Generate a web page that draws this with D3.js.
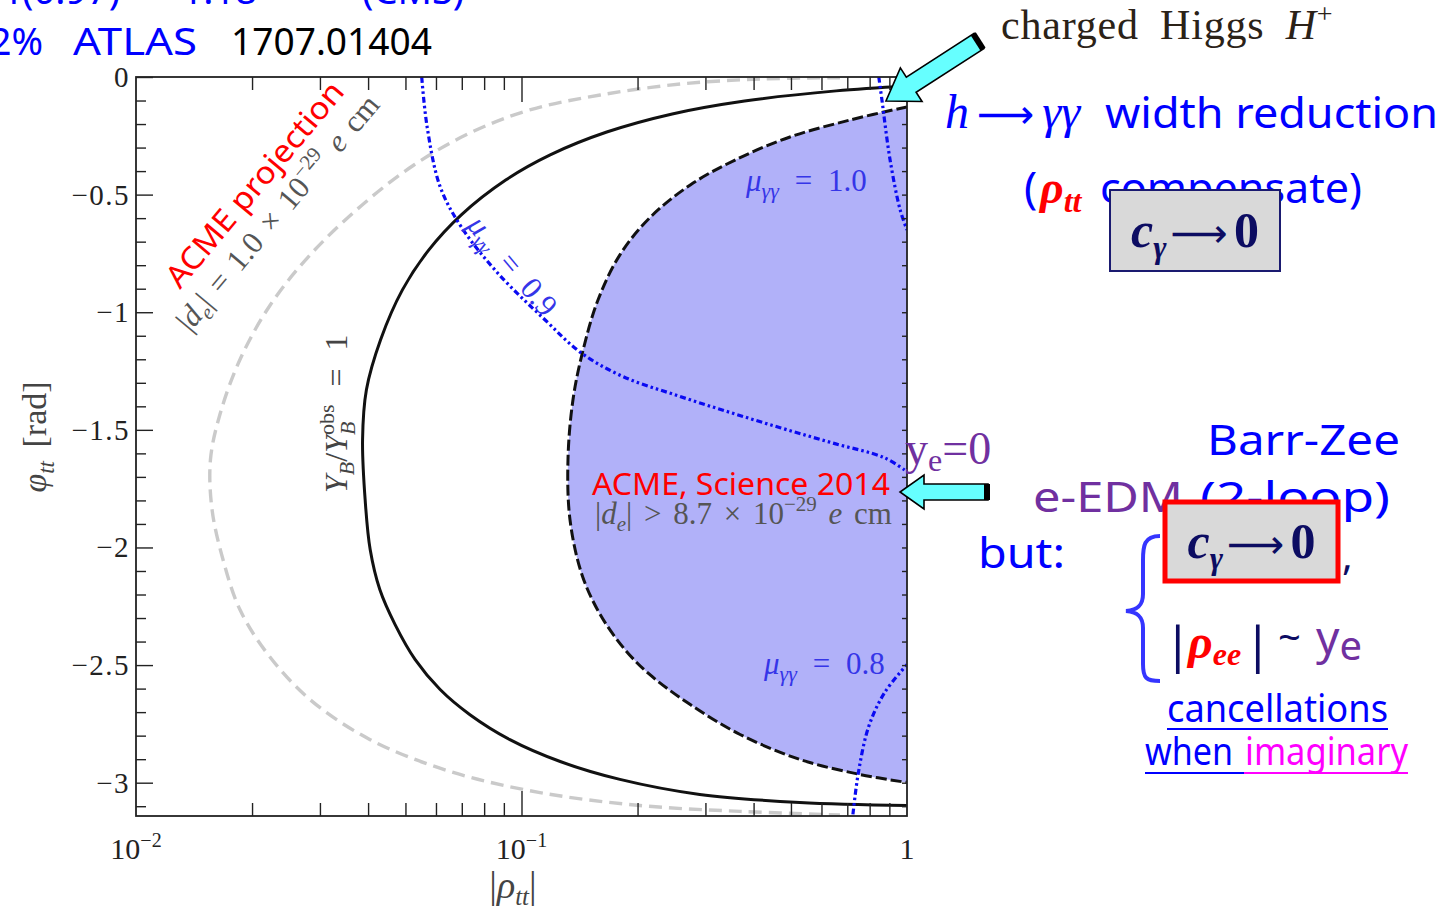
<!DOCTYPE html>
<html>
<head>
<meta charset="utf-8">
<script src="https://cdn.jsdelivr.net/npm/d3@7"></script>
<style>
  html, body { margin: 0; padding: 0; background: #fff; overflow: hidden; }
  svg { display: block; }
</style>
</head>
<body>
<svg id="chart" width="1450" height="914"></svg>
<script>
// Contours in the (|rho_tt|, phi_tt) plane, each point is [|rho_tt|, phi_tt in rad]
const ybCurve = [
  [1.0, -0.038], [0.655, -0.059], [0.379, -0.102], [0.246, -0.157], [0.1664, -0.234],
  [0.1187, -0.331], [0.0910, -0.438], [0.0698, -0.586], [0.0575, -0.735], [0.0491, -0.905],
  [0.0431, -1.117], [0.0396, -1.330], [0.0387, -1.542], [0.0393, -1.797], [0.0405, -2.009],
  [0.0429, -2.179], [0.0470, -2.328], [0.0530, -2.477], [0.0615, -2.604], [0.0735, -2.711],
  [0.0933, -2.817], [0.126, -2.910], [0.180, -2.986], [0.290, -3.050], [0.527, -3.084],
  [1.0, -3.097]
];
const acme2014 = [
  [1.0, -0.127], [0.711, -0.183], [0.497, -0.255], [0.358, -0.353], [0.274, -0.459],
  [0.215, -0.599], [0.180, -0.756], [0.158, -0.947], [0.1445, -1.160], [0.136, -1.372],
  [0.132, -1.627], [0.1336, -1.882], [0.1435, -2.116], [0.160, -2.285], [0.1855, -2.434],
  [0.215, -2.540], [0.274, -2.668], [0.369, -2.795], [0.527, -2.901], [0.755, -2.965],
  [1.0, -2.999]
];
const acmeProjection = [
  [0.67, -0.003], [0.416, -0.0085], [0.258, -0.030], [0.160, -0.0765], [0.105, -0.140],
  [0.0735, -0.238], [0.0526, -0.374], [0.0386, -0.544], [0.0283, -0.756], [0.0223, -0.969],
  [0.0186, -1.202], [0.0165, -1.436], [0.0156, -1.627], [0.01575, -1.839], [0.01682, -2.052],
  [0.0186, -2.264], [0.0220, -2.455], [0.0283, -2.647], [0.0405, -2.817], [0.0652, -2.952],
  [0.1117, -3.042], [0.203, -3.097], [0.369, -3.122], [0.67, -3.137]
];
const muGG10 = [[0.845, 0.0], [0.861, -0.098], [0.904, -0.353], [0.96, -0.565], [1.0, -0.65]];
const muGG09 = [
  [0.0551, 0.0], [0.0569, -0.211], [0.0615, -0.466], [0.0697, -0.636], [0.0867, -0.833],
  [0.115, -1.032], [0.1426, -1.172], [0.183, -1.273], [0.25, -1.351], [0.343, -1.423],
  [0.469, -1.491], [0.638, -1.555], [0.875, -1.619], [1.0, -1.678]
];
const muGG08 = [[0.724, -3.135], [0.748, -2.957], [0.796, -2.76], [0.875, -2.617], [1.0, -2.498]];

// Axis ticks
const yMajorTicks = [0, -0.5, -1, -1.5, -2, -2.5, -3];
const yTickLabels = ["0", "\u22120.5", "\u22121", "\u22121.5", "\u22122", "\u22122.5", "\u22123"];
const yMinorTicks = [-0.1, -0.2, -0.3, -0.4, -0.6, -0.7, -0.8, -0.9, -1.1, -1.2, -1.3, -1.4,
  -1.6, -1.7, -1.8, -1.9, -2.1, -2.2, -2.3, -2.4, -2.6, -2.7, -2.8, -2.9, -3.1];
const xMajorTicks = [0.01, 0.1, 1];
const xTickExponents = ["\u22122", "\u22121", ""];
const xMinorTicks = [0.02, 0.03, 0.04, 0.05, 0.06, 0.07, 0.08, 0.09, 0.2, 0.3, 0.4, 0.5, 0.6, 0.7, 0.8, 0.9];

const svg = d3.select("#chart");
const plot = { left: 136, right: 907, top: 77, bottom: 816 };

const x = d3.scaleLog().domain([0.01, 1]).range([plot.left, plot.right]);
const y = d3.scaleLinear().domain([0, -Math.PI]).range([plot.top, plot.bottom]);

const serif = "'Liberation Serif', 'DejaVu Serif', serif";
const hand = "'Noto Sans', 'Open Sans', sans-serif";

svg.append("defs").append("clipPath").attr("id", "plotClip")
  .append("rect")
  .attr("x", plot.left).attr("y", plot.top)
  .attr("width", plot.right - plot.left).attr("height", plot.bottom - plot.top);

const line = d3.line().x(d => x(d[0])).y(d => y(d[1])).curve(d3.curveCatmullRom.alpha(0.5));

const g = svg.append("g").attr("clip-path", "url(#plotClip)");

// excluded region right of the ACME 2014 bound
g.append("path")
  .attr("d", line(acme2014) + "Z")
  .attr("fill", "#b1b1f9");

g.append("path").attr("d", line(acmeProjection))
  .attr("fill", "none").attr("stroke", "#cacaca").attr("stroke-width", 3.4)
  .attr("stroke-dasharray", "13,7");

g.append("path").attr("d", line(ybCurve))
  .attr("fill", "none").attr("stroke", "#111").attr("stroke-width", 3);

g.append("path").attr("d", line(acme2014))
  .attr("fill", "none").attr("stroke", "#111").attr("stroke-width", 3)
  .attr("stroke-dasharray", "11,4");

[muGG10, muGG09, muGG08].forEach(c => {
  g.append("path").attr("d", line(c))
    .attr("fill", "none").attr("stroke", "#0a0af2").attr("stroke-width", 3.2)
    .attr("stroke-dasharray", "6,3,2.5,3,2.5,3");
});

// frame
svg.append("rect")
  .attr("x", plot.left).attr("y", plot.top)
  .attr("width", plot.right - plot.left).attr("height", plot.bottom - plot.top)
  .attr("fill", "none").attr("stroke", "#222").attr("stroke-width", 1.8);

// ticks
const tickStyle = sel => sel.call(s => s.select(".domain").remove())
  .selectAll(".tick line").attr("stroke", "#222").attr("stroke-width", 1.4);

svg.append("g").attr("transform", `translate(0,${plot.bottom})`)
  .call(d3.axisBottom(x).tickValues(xMinorTicks).tickSize(-13).tickFormat(""))
  .call(tickStyle);
svg.append("g").attr("transform", `translate(0,${plot.bottom})`)
  .call(d3.axisBottom(x).tickValues([0.1]).tickSize(-25).tickFormat(""))
  .call(tickStyle);
svg.append("g").attr("transform", `translate(0,${plot.top})`)
  .call(d3.axisTop(x).tickValues(xMinorTicks).tickSize(-13).tickFormat(""))
  .call(tickStyle);
svg.append("g").attr("transform", `translate(0,${plot.top})`)
  .call(d3.axisTop(x).tickValues([0.1]).tickSize(-25).tickFormat(""))
  .call(tickStyle);

svg.append("g").attr("transform", `translate(${plot.left},0)`)
  .call(d3.axisLeft(y).tickValues(yMinorTicks).tickSize(-10).tickFormat(""))
  .call(tickStyle);
svg.append("g").attr("transform", `translate(${plot.left},0)`)
  .call(d3.axisLeft(y).tickValues(yMajorTicks).tickSize(-17).tickFormat(""))
  .call(tickStyle);
svg.append("g").attr("transform", `translate(${plot.right},0)`)
  .call(d3.axisRight(y).tickValues(yMinorTicks.concat(yMajorTicks)).tickSize(-5).tickFormat(""))
  .call(tickStyle);

// tick labels
svg.append("g").selectAll("text").data(yMajorTicks).join("text")
  .attr("x", 130).attr("y", d => y(d) + 10)
  .attr("text-anchor", "end")
  .attr("font-family", serif).attr("font-size", 29).attr("letter-spacing", 1.5).attr("fill", "#222")
  .text((d, i) => yTickLabels[i]);

const xl = svg.append("g").selectAll("text").data(xMajorTicks).join("text")
  .attr("x", d => x(d)).attr("y", 859)
  .attr("text-anchor", "middle")
  .attr("font-family", serif).attr("font-size", 30).attr("fill", "#222");
xl.each(function (d, i) {
  const t = d3.select(this);
  if (xTickExponents[i] === "") { t.text("1"); return; }
  t.append("tspan").text("10");
  t.append("tspan").attr("dy", -12).attr("font-size", 20).text(xTickExponents[i]);
});

// axis titles
const yTitle = svg.append("text")
  .attr("transform", "translate(46,437) rotate(-90)")
  .attr("text-anchor", "middle").attr("font-family", serif).attr("font-size", 34)
  .attr("word-spacing", 5).attr("fill", "#444");
yTitle.append("tspan").attr("font-style", "italic").text("\u03c6");
yTitle.append("tspan").attr("font-style", "italic").attr("font-size", 23).attr("dy", 8).text("tt");
yTitle.append("tspan").attr("dy", -8).text(" [rad]");

const xTitle = svg.append("text")
  .attr("x", 513).attr("y", 898)
  .attr("text-anchor", "middle").attr("font-family", serif).attr("font-size", 38).attr("fill", "#444");
xTitle.append("tspan").text("|");
xTitle.append("tspan").attr("font-style", "italic").text("\u03c1");
xTitle.append("tspan").attr("font-style", "italic").attr("font-size", 25).attr("dy", 7).text("tt");
xTitle.append("tspan").attr("dy", -7).text("|");

// in-plot labels
function muLabel(sel, val) {
  sel.attr("font-family", serif).attr("font-size", 31).attr("word-spacing", 8).attr("fill", "#3535e8");
  sel.append("tspan").attr("font-style", "italic").text("\u03bc");
  sel.append("tspan").attr("font-style", "italic").attr("font-size", 22).attr("dy", 7).text("\u03b3\u03b3");
  sel.append("tspan").attr("dy", -7).text(" = " + val);
}
muLabel(svg.append("text").attr("x", 746).attr("y", 191), "1.0");
muLabel(svg.append("text").attr("x", 764).attr("y", 674), "0.8");
muLabel(svg.append("text").attr("transform", "translate(466,226) rotate(50)"), "0.9");

// Y_B / Y_B^obs = 1, with the stacked sub/superscript measured in place
const yb = svg.append("text").attr("transform", "translate(347,493) rotate(-90)")
  .attr("font-family", serif).attr("font-size", 32).attr("word-spacing", 10).attr("fill", "#444");
yb.append("tspan").attr("font-style", "italic").text("Y");
yb.append("tspan").attr("font-style", "italic").attr("font-size", 22).attr("dy", 7).text("B");
yb.append("tspan").attr("dy", -7).text("/");
yb.append("tspan").attr("font-style", "italic").text("Y");
const obs = yb.append("tspan").attr("font-size", 22).attr("dy", -13).text("obs");
const obsW = obs.node().getComputedTextLength();
const subB = yb.append("tspan").attr("font-style", "italic").attr("font-size", 22)
  .attr("dx", -obsW).attr("dy", 21).text("B");
const bW = subB.node().getComputedTextLength();
yb.append("tspan").attr("dx", obsW - bW).attr("dy", -8).text(" = 1");

svg.append("text").attr("transform", "translate(180,290) rotate(-50)")
  .attr("font-family", hand).attr("font-size", 31).attr("fill", "#ff0000")
  .attr("textLength", 258).attr("lengthAdjust", "spacingAndGlyphs")
  .text("ACME projection");

function deLabel(sel, rel, val) {
  sel.attr("font-family", serif).attr("font-size", 31).attr("word-spacing", 4).attr("fill", "#555");
  sel.append("tspan").text("|");
  sel.append("tspan").attr("font-style", "italic").text("d");
  sel.append("tspan").attr("font-style", "italic").attr("font-size", 21).attr("dy", 7).text("e");
  sel.append("tspan").attr("dy", -7).text(`| ${rel} ${val} \u00d7 10`);
  sel.append("tspan").attr("font-size", 21).attr("dy", -13).text("\u221229");
  sel.append("tspan").attr("dy", 13).text(" ");
  sel.append("tspan").attr("font-style", "italic").text("e");
  sel.append("tspan").text(" cm");
}
deLabel(svg.append("text").attr("transform", "translate(190,333) rotate(-50)"), "=", "1.0");

svg.append("text").attr("x", 592).attr("y", 495)
  .attr("font-family", hand).attr("font-size", 30).attr("fill", "#ff0000")
  .attr("textLength", 298).attr("lengthAdjust", "spacingAndGlyphs")
  .text("ACME, Science 2014");
deLabel(svg.append("text").attr("x", 595).attr("y", 524), ">", "8.7");

// slide annotations
const top1 = svg.append("text").attr("y", 4)
  .attr("font-family", hand).attr("font-size", 38).attr("fill", "#0000ff");
top1.append("tspan").attr("x", 2).text("1");
top1.append("tspan").attr("x", 22).text("(0.97)");
top1.append("tspan").attr("x", 150).text("\u2248 1.18");
top1.append("tspan").attr("x", 362).text("(CMS)");

svg.append("text").attr("x", 43).attr("y", 55).attr("text-anchor", "end")
  .attr("font-family", hand).attr("font-size", 38).attr("fill", "#0000ff").text("12%");
svg.append("text").attr("x", 73).attr("y", 55)
  .attr("font-family", hand).attr("font-size", 38).attr("fill", "#0000ff")
  .attr("textLength", 124).attr("lengthAdjust", "spacingAndGlyphs").text("ATLAS");
svg.append("text").attr("x", 231).attr("y", 55)
  .attr("font-family", hand).attr("font-size", 38).attr("fill", "#000")
  .attr("textLength", 201).attr("lengthAdjust", "spacingAndGlyphs").text("1707.01404");

const ch = svg.append("text").attr("x", 1001).attr("y", 39)
  .attr("font-family", serif).attr("font-size", 42).attr("word-spacing", 10).attr("letter-spacing", 0.8)
  .attr("fill", "#2b2218");
ch.append("tspan").text("charged Higgs ");
ch.append("tspan").attr("font-style", "italic").text("H");
ch.append("tspan").attr("font-size", 28).attr("dy", -16).text("+");

const hw = svg.append("text").attr("x", 945).attr("y", 128)
  .attr("font-size", 48).attr("fill", "#0000ff").attr("font-family", serif);
hw.append("tspan").attr("font-style", "italic").text("h");
hw.append("tspan").attr("dx", 8).attr("font-family", "'DejaVu Sans', sans-serif").attr("font-size", 40).text("\u27f6");
hw.append("tspan").attr("dx", 8).attr("font-style", "italic").text("\u03b3\u03b3");
svg.append("text").attr("x", 1105).attr("y", 128)
  .attr("font-family", hand).attr("font-size", 42).attr("fill", "#0000ff")
  .attr("textLength", 333).attr("lengthAdjust", "spacingAndGlyphs").text("width reduction");

svg.append("text").attr("x", 1024).attr("y", 203)
  .attr("font-family", hand).attr("font-size", 44).attr("fill", "#0000ff").text("(");
const rtt = svg.append("text").attr("x", 1040).attr("y", 203)
  .attr("font-family", serif).attr("font-weight", "bold").attr("font-style", "italic")
  .attr("font-size", 46).attr("fill", "#ff0000");
rtt.append("tspan").text("\u03c1");
rtt.append("tspan").attr("font-size", 32).attr("dy", 9).text("tt");
svg.append("text").attr("x", 1100).attr("y", 203)
  .attr("font-family", hand).attr("font-size", 42).attr("fill", "#0000ff")
  .attr("textLength", 262).attr("lengthAdjust", "spacingAndGlyphs").text("compensate)");

function cGammaBox(x0, y0, w, h, stroke, sw) {
  svg.append("rect").attr("x", x0).attr("y", y0).attr("width", w).attr("height", h)
    .attr("fill", "#d9d9d9").attr("stroke", stroke).attr("stroke-width", sw);
  const t = svg.append("text").attr("x", x0 + w / 2).attr("y", y0 + h / 2 + 16)
    .attr("text-anchor", "middle").attr("font-family", serif).attr("font-size", 50).attr("fill", "#0c0c62");
  t.append("tspan").attr("font-weight", "bold").attr("font-style", "italic").text("c");
  t.append("tspan").attr("font-weight", "bold").attr("font-style", "italic").attr("font-size", 32).attr("dy", 11).text("\u03b3");
  t.append("tspan").attr("dy", -11).attr("dx", 4).attr("font-family", "'DejaVu Sans', sans-serif")
    .attr("font-size", 40).text("\u27f6");
  t.append("tspan").attr("dx", 6).attr("font-weight", "bold").text("0");
}
cGammaBox(1110, 190, 170, 81, "#1a1a70", 2);

const ye = svg.append("text").attr("x", 905).attr("y", 464)
  .attr("font-family", serif).attr("font-size", 46).attr("fill", "#7030a0");
ye.append("tspan").text("y");
ye.append("tspan").attr("font-size", 32).attr("dy", 7).text("e");
ye.append("tspan").attr("dy", -7).text("=0");

svg.append("text").attr("x", 1207).attr("y", 455)
  .attr("font-family", hand).attr("font-size", 42).attr("fill", "#0000ff")
  .attr("textLength", 193).attr("lengthAdjust", "spacingAndGlyphs").text("Barr-Zee");
svg.append("text").attr("x", 1033).attr("y", 512)
  .attr("font-family", hand).attr("font-size", 42).attr("fill", "#7030a0")
  .attr("textLength", 150).attr("lengthAdjust", "spacingAndGlyphs").text("e-EDM");
svg.append("text").attr("x", 1200).attr("y", 512)
  .attr("font-family", hand).attr("font-size", 42).attr("fill", "#0000ff")
  .attr("textLength", 190).attr("lengthAdjust", "spacingAndGlyphs").text("(2-loop)");
svg.append("text").attr("x", 978).attr("y", 568)
  .attr("font-family", hand).attr("font-size", 42).attr("fill", "#0000ff")
  .attr("textLength", 87).attr("lengthAdjust", "spacingAndGlyphs").text("but:");

cGammaBox(1165, 502, 173, 79, "#ff0000", 5);
svg.append("text").attr("x", 1342).attr("y", 570)
  .attr("font-family", hand).attr("font-size", 40).attr("fill", "#0c0c62").text(",");

// curly brace
svg.append("path")
  .attr("d", "M1160,536 C1144,536 1143,546 1143,560 L1143,594 C1143,604 1139,610 1126,611 C1139,612 1143,618 1143,628 L1143,664 C1143,678 1146,681 1160,681")
  .attr("fill", "none").attr("stroke", "#3535ff").attr("stroke-width", 4);

const navy = "#0c0c62";
svg.append("text").attr("x", 1164).attr("y", 662).attr("font-family", hand)
  .attr("font-size", 50).attr("fill", navy).text("|");
const ree = svg.append("text").attr("x", 1188).attr("y", 658)
  .attr("font-family", serif).attr("font-weight", "bold").attr("font-style", "italic")
  .attr("font-size", 48).attr("fill", "#ff0000");
ree.append("tspan").text("\u03c1");
ree.append("tspan").attr("font-size", 32).attr("dy", 7).text("ee");
svg.append("text").attr("x", 1244).attr("y", 662).attr("font-family", hand)
  .attr("font-size", 50).attr("fill", navy).text("|");
svg.append("text").attr("x", 1278).attr("y", 652).attr("font-family", hand)
  .attr("font-size", 40).attr("fill", navy).text("~");
const yeR = svg.append("text").attr("x", 1316).attr("y", 654).attr("font-family", hand)
  .attr("font-size", 46).attr("fill", "#7030a0");
yeR.append("tspan").text("y");
yeR.append("tspan").attr("font-size", 40).attr("dy", 6).text("e");

svg.append("text").attr("x", 1167).attr("y", 722)
  .attr("font-family", hand).attr("font-size", 38).attr("fill", "#0000ff")
  .attr("textLength", 221).attr("lengthAdjust", "spacingAndGlyphs").text("cancellations");
svg.append("line").attr("x1", 1167).attr("x2", 1388).attr("y1", 729).attr("y2", 729)
  .attr("stroke", "#0000ff").attr("stroke-width", 2);
svg.append("text").attr("x", 1145).attr("y", 765)
  .attr("font-family", hand).attr("font-size", 38).attr("fill", "#0000ff")
  .attr("textLength", 88).attr("lengthAdjust", "spacingAndGlyphs").text("when");
svg.append("text").attr("x", 1245).attr("y", 765)
  .attr("font-family", hand).attr("font-size", 38).attr("fill", "#ff00ff")
  .attr("textLength", 163).attr("lengthAdjust", "spacingAndGlyphs").text("imaginary");
svg.append("line").attr("x1", 1145).attr("x2", 1244).attr("y1", 773).attr("y2", 773)
  .attr("stroke", "#0000ff").attr("stroke-width", 2);
svg.append("line").attr("x1", 1244).attr("x2", 1408).attr("y1", 773).attr("y2", 773)
  .attr("stroke", "#ff00ff").attr("stroke-width", 2);

// block arrows
function blockArrow(tip, tail, shaftHW, headHW, headLen) {
  const dx = tip[0] - tail[0], dy = tip[1] - tail[1];
  const L = Math.hypot(dx, dy);
  const ang = Math.atan2(dy, dx) * 180 / Math.PI;
  const ag = svg.append("g").attr("transform", `translate(${tail[0]},${tail[1]}) rotate(${ang})`);
  const pts = [[0, -shaftHW], [L - headLen, -shaftHW], [L - headLen, -headHW], [L, 0],
               [L - headLen, headHW], [L - headLen, shaftHW], [0, shaftHW]];
  ag.append("path").attr("d", "M" + pts.map(p => p.join(",")).join("L") + "Z")
    .attr("fill", "#66ffff").attr("stroke", "#000").attr("stroke-width", 1.6);
  ag.append("rect").attr("x", -2).attr("y", -shaftHW).attr("width", 6).attr("height", 2 * shaftHW)
    .attr("fill", "#000");
}
blockArrow([886, 101], [979, 41], 9, 20, 30);
blockArrow([900, 492], [988, 492], 8, 17, 24);
</script>
</body>
</html>
